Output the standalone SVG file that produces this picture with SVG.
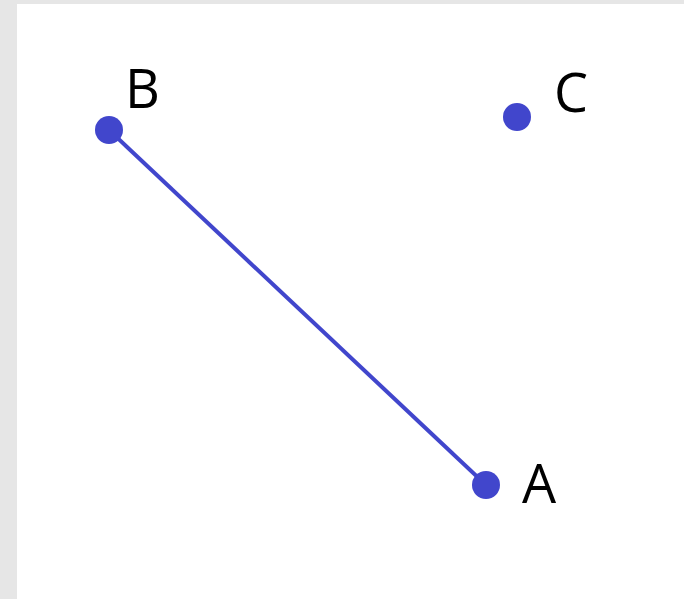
<svg xmlns="http://www.w3.org/2000/svg" width="684" height="599" viewBox="0 0 684 599">
<style>
.pt{fill:#4146cc}
.lbl{font-family:"Open Sans","DejaVu Sans",sans-serif;font-size:54px;fill:#000}
</style>
<rect x="0" y="0" width="684" height="599" fill="#e6e6e6"/>
<rect x="17" y="4" width="667" height="595" fill="#ffffff"/>
<g id="connectors">
<line x1="109" y1="130" x2="486" y2="485" stroke="#4146cc" stroke-width="4"/>
</g>
<g id="node-B">
<circle class="pt" cx="109" cy="130" r="14"/>
<text class="lbl" x="125" y="108">B</text>
</g>
<g id="node-C">
<circle class="pt" cx="517" cy="117" r="14"/>
<text class="lbl" x="554" y="112">C</text>
</g>
<g id="node-A">
<circle class="pt" cx="486" cy="485" r="14"/>
<text class="lbl" x="522" y="503">A</text>
</g>
</svg>
